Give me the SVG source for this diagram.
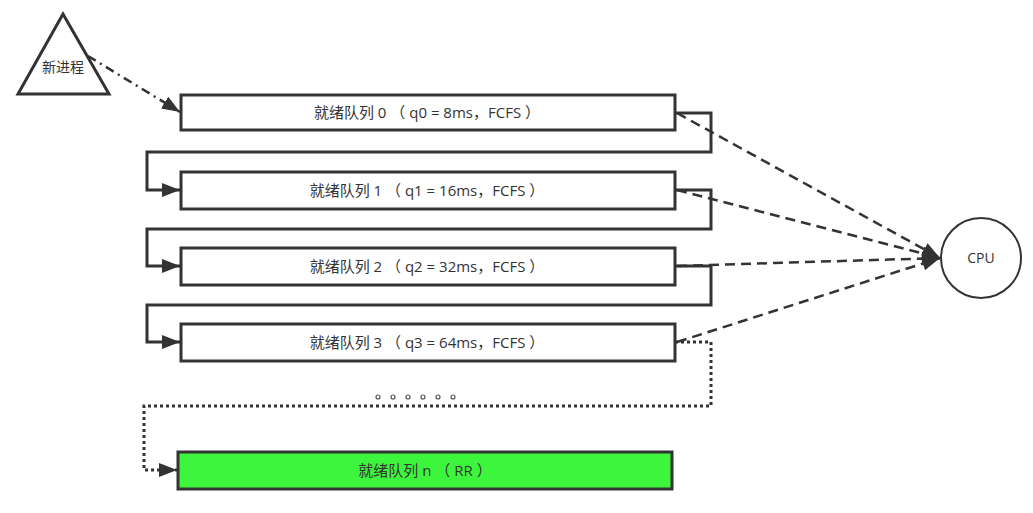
<svg xmlns="http://www.w3.org/2000/svg" width="1033" height="513" viewBox="0 0 1033 513">
<style>
.box{fill:#fff;stroke:#333;stroke-width:3}
.lbl{font-family:"Open Sans","Noto Sans CJK SC",sans-serif;font-size:15px;fill:#333;text-anchor:middle}
.sm{font-size:14px}
.c{fill:none;stroke:#333;stroke-width:3}
.dash{fill:none;stroke:#333;stroke-width:2.5;stroke-dasharray:10,6}
.dashdot{fill:none;stroke:#333;stroke-width:2.5;stroke-dasharray:9,5,2,5}
.dot{fill:none;stroke:#333;stroke-width:3;stroke-dasharray:3,3}
</style>
<defs>
<marker id="ah" markerUnits="userSpaceOnUse" markerWidth="20" markerHeight="16" refX="18" refY="8" orient="auto">
<path d="M0,1 L18,8 L0,15 Z" fill="#333"/>
</marker>
</defs>
<rect width="1033" height="513" fill="#fff"/>
<g id="new-process">
<polygon points="63,14 18,94 109,94" fill="#fff" stroke="#333" stroke-width="3" stroke-linejoin="miter"/>
<text class="lbl sm" x="63" y="72">新进程</text>
</g>
<g id="q0"><rect class="box" x="181" y="95" width="494" height="35"/><text class="lbl" x="427" y="118">就绪队列 0 （ q0 = 8ms，FCFS ）</text></g>
<g id="q1"><rect class="box" x="181" y="172" width="494" height="37"/><text class="lbl" x="427" y="196">就绪队列 1 （ q1 = 16ms，FCFS ）</text></g>
<g id="q2"><rect class="box" x="181" y="248" width="494" height="37"/><text class="lbl" x="427" y="272">就绪队列 2 （ q2 = 32ms，FCFS ）</text></g>
<g id="q3"><rect class="box" x="181" y="324" width="494" height="37"/><text class="lbl" x="427" y="348">就绪队列 3 （ q3 = 64ms，FCFS ）</text></g>
<g id="qn"><rect x="178" y="452" width="494" height="37" fill="#3ef53e" stroke="#333" stroke-width="3"/><text class="lbl" x="425" y="476">就绪队列 n （ RR ）</text></g>
<g id="cpu"><circle cx="981" cy="258" r="40" fill="#fff" stroke="#333" stroke-width="2"/><text class="lbl sm" x="981" y="263">CPU</text></g>
<g id="ellipsis" fill="none" stroke="#555" stroke-width="1.2">
<circle cx="378" cy="397" r="2"/><circle cx="393" cy="397" r="2"/><circle cx="408" cy="397" r="2"/><circle cx="423" cy="397" r="2"/><circle cx="438" cy="397" r="2"/><circle cx="453" cy="397" r="2"/>
</g>
<g id="connectors">
<path class="dashdot" d="M88,56 L180,112" marker-end="url(#ah)"/>
<path class="c" d="M675,113 H711 V152 H147 V190 H180" marker-end="url(#ah)"/>
<path class="c" d="M675,190 H711 V229 H147 V266 H180" marker-end="url(#ah)"/>
<path class="c" d="M675,266 H711 V305 H147 V342 H180" marker-end="url(#ah)"/>
<path class="dot" d="M675,342 H711 V406 H144 V470 H177" marker-end="url(#ah)"/>
<path class="dash" d="M677,113 L940,258" marker-end="url(#ah)"/>
<path class="dash" d="M677,190 L940,258" marker-end="url(#ah)"/>
<path class="dash" d="M677,266 L940,258" marker-end="url(#ah)"/>
<path class="dash" d="M677,342 L940,258" marker-end="url(#ah)"/>
</g>
</svg>
